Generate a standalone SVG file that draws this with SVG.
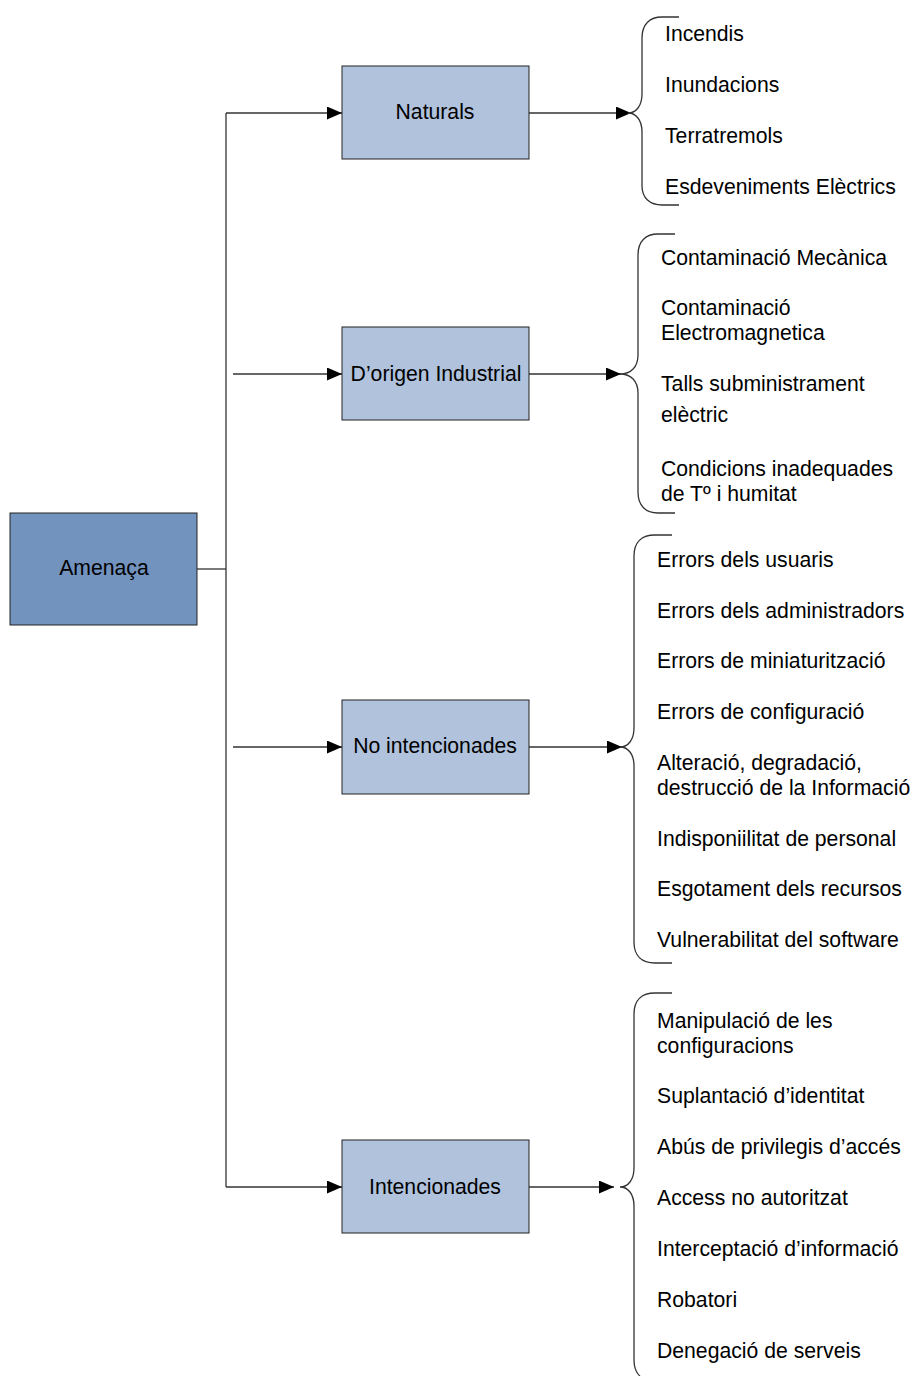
<svg xmlns="http://www.w3.org/2000/svg" width="913" height="1376" viewBox="0 0 913 1376">
<defs>
<marker id="arr" markerWidth="15" markerHeight="13" refX="15" refY="6.5" orient="auto" markerUnits="userSpaceOnUse">
<path d="M0,0 L15,6.5 L0,13 Z" fill="#000"/>
</marker>
<style>
.box{fill:#b0c2dc;stroke:#222;stroke-width:1}
.root{fill:#7393bf;stroke:#222;stroke-width:1}
.t{font-family:"Liberation Sans",Arial,sans-serif;font-size:21.2px;fill:#000}
.c{text-anchor:middle}
.ln{fill:none;stroke:#333;stroke-width:1.3}
.br{fill:none;stroke:#333;stroke-width:1.3}
</style>
</defs>
<rect width="913" height="1376" fill="#fff"/>
<g id="connectors">
<path class="ln" d="M197,569 H226"/>
<path class="ln" d="M226,113 V1187"/>
<path class="ln" d="M226,113 H342" marker-end="url(#arr)"/>
<path class="ln" d="M233,374 H342" marker-end="url(#arr)"/>
<path class="ln" d="M233,747 H342" marker-end="url(#arr)"/>
<path class="ln" d="M226,1187 H342" marker-end="url(#arr)"/>
<path class="ln" d="M529,113 H631" marker-end="url(#arr)"/>
<path class="ln" d="M529,374 H621" marker-end="url(#arr)"/>
<path class="ln" d="M529,747 H622" marker-end="url(#arr)"/>
<path class="ln" d="M529,1187 H614" marker-end="url(#arr)"/>
</g>
<g id="amenaca">
<rect class="root" x="10" y="513" width="187" height="112"/>
<text class="t c" x="104" y="575">Amenaça</text>
</g>
<g id="naturals">
<rect class="box" x="342" y="66" width="187" height="93"/>
<text class="t c" x="435" y="119">Naturals</text>
</g>
<g id="industrial">
<rect class="box" x="342" y="327" width="187" height="93"/>
<text class="t c" x="436" y="381">D’origen Industrial</text>
</g>
<g id="nointencionades">
<rect class="box" x="342" y="700" width="187" height="94"/>
<text class="t c" x="435" y="753">No intencionades</text>
</g>
<g id="intencionades">
<rect class="box" x="342" y="1140" width="187" height="93"/>
<text class="t c" x="435" y="1194">Intencionades</text>
</g>
<g id="list-naturals">
<path class="br" d="M679,17 H662 C650,17 642,24 642,38 V94 C642,106 636,113 628,113 C636,113 642,120 642,132 V186 C642,198 650,205 662,205 H679"/>
<text class="t" x="665" y="41">Incendis</text>
<text class="t" x="665" y="92">Inundacions</text>
<text class="t" x="665" y="143">Terratremols</text>
<text class="t" x="665" y="194">Esdeveniments Elèctrics</text>
</g>
<g id="list-industrial">
<path class="br" d="M675,234 H658 C646,234 638,241 638,255 V355 C638,367 631,374 620,374 C631,374 638,381 638,393 V492 C638,506 646,513 658,513 H675"/>
<text class="t" x="661" y="265">Contaminació Mecànica</text>
<text class="t" x="661" y="315">Contaminació</text>
<text class="t" x="661" y="340">Electromagnetica</text>
<text class="t" x="661" y="391">Talls subministrament</text>
<text class="t" x="661" y="422">elèctric</text>
<text class="t" x="661" y="476">Condicions inadequades</text>
<text class="t" x="661" y="501">de Tº i humitat</text>
</g>
<g id="list-nointencionades">
<path class="br" d="M672,535 H655 C642,535 634,542 634,556 V728 C634,740 628,747 620,747 C628,747 634,754 634,766 V942 C634,956 642,963 655,963 H672"/>
<text class="t" x="657" y="567">Errors dels usuaris</text>
<text class="t" x="657" y="618">Errors dels administradors</text>
<text class="t" x="657" y="668">Errors de miniaturització</text>
<text class="t" x="657" y="719">Errors de configuració</text>
<text class="t" x="657" y="770">Alteració, degradació,</text>
<text class="t" x="657" y="795">destrucció de la Informació</text>
<text class="t" x="657" y="846">Indisponiilitat de personal</text>
<text class="t" x="657" y="896">Esgotament dels recursos</text>
<text class="t" x="657" y="947">Vulnerabilitat del software</text>
</g>
<g id="list-intencionades">
<path class="br" d="M672,993 H655 C642,993 634,1000 634,1014 V1168 C634,1180 628,1187 620,1187 C628,1187 634,1194 634,1206 V1360 C634,1374 642,1381 655,1381 H672"/>
<text class="t" x="657" y="1028">Manipulació de les</text>
<text class="t" x="657" y="1053">configuracions</text>
<text class="t" x="657" y="1103">Suplantació d’identitat</text>
<text class="t" x="657" y="1154">Abús de privilegis d’accés</text>
<text class="t" x="657" y="1205">Access no autoritzat</text>
<text class="t" x="657" y="1256">Interceptació d’informació</text>
<text class="t" x="657" y="1307">Robatori</text>
<text class="t" x="657" y="1358">Denegació de serveis</text>
</g>
</svg>
